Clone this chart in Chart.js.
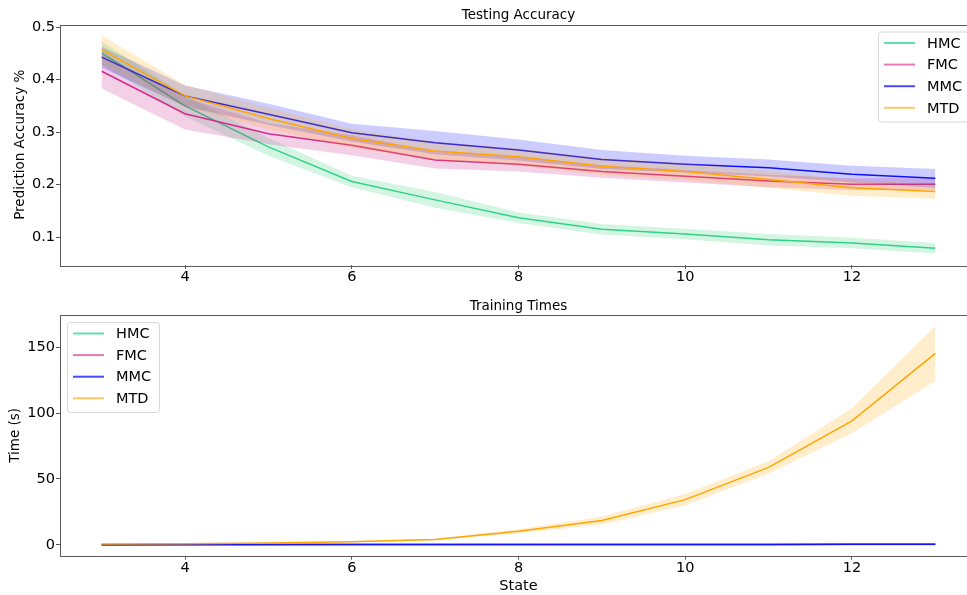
<!DOCTYPE html>
<html><head><meta charset="utf-8">
<script src="https://cdn.jsdelivr.net/npm/chart.js@4/dist/chart.umd.min.js"></script>
<style>
html,body{margin:0;padding:0;background:#fff;overflow:hidden;width:967px;height:595px;position:relative;}
#c1{position:absolute;left:0;top:0;}
#c2{position:absolute;left:0;top:290px;}
</style></head><body>
<canvas id="c1" width="990" height="290"></canvas>
<canvas id="c2" width="990" height="305"></canvas>
<script>
// ---------- data ----------
const states = [3, 4, 5, 6, 7, 8, 9, 10, 11, 12, 13];
const seriesNames = ['HMC', 'FMC', 'MMC', 'MTD'];

const accHMC = [0.451, 0.350, 0.272, 0.206, 0.171, 0.137, 0.115, 0.106, 0.095, 0.089, 0.079];
const accFMC = [0.416, 0.335, 0.297, 0.275, 0.247, 0.239, 0.225, 0.216, 0.207, 0.201, 0.201];
const accMMC = [0.443, 0.369, 0.334, 0.299, 0.280, 0.266, 0.248, 0.239, 0.232, 0.220, 0.212];
const accMTD = [0.457, 0.369, 0.326, 0.288, 0.264, 0.253, 0.235, 0.225, 0.210, 0.194, 0.187];

const accStdHMC = [0.022, 0.020, 0.017, 0.011, 0.015, 0.010, 0.010, 0.010, 0.011, 0.010, 0.010];
const accStdFMC = [0.033, 0.030, 0.020, 0.019, 0.016, 0.014, 0.012, 0.012, 0.012, 0.011, 0.011];
const accStdMMC = [0.020, 0.020, 0.020, 0.017, 0.022, 0.020, 0.018, 0.016, 0.016, 0.016, 0.018];
const accStdMTD = [0.027, 0.021, 0.020, 0.018, 0.017, 0.016, 0.016, 0.016, 0.016, 0.015, 0.014];

const timeHMC = [0.05, 0.08, 0.10, 0.12, 0.15, 0.18, 0.20, 0.22, 0.25, 0.28, 0.30];
const timeFMC = [0.06, 0.09, 0.12, 0.15, 0.18, 0.20, 0.23, 0.26, 0.29, 0.32, 0.35];
const timeMMC = [0.10, 0.12, 0.15, 0.18, 0.20, 0.22, 0.25, 0.28, 0.30, 0.32, 0.35];
const timeMTD = [0.5, 0.8, 1.3, 2.3, 4.0, 10.3, 18.4, 34.3, 58.8, 94.2, 145.4];

const timeStdHMC = [0.01, 0.01, 0.01, 0.01, 0.01, 0.02, 0.02, 0.02, 0.02, 0.02, 0.02];
const timeStdFMC = [0.01, 0.01, 0.01, 0.01, 0.01, 0.02, 0.02, 0.02, 0.02, 0.02, 0.02];
const timeStdMMC = [0.01, 0.01, 0.01, 0.01, 0.01, 0.02, 0.02, 0.02, 0.02, 0.02, 0.02];
const timeStdMTD = [0.1, 0.1, 0.2, 0.3, 0.5, 1.5, 3.0, 4.2, 4.7, 9.5, 21.0];

const accTicks = [0.1, 0.2, 0.3, 0.4, 0.5];
const timeTicks = [0, 50, 100, 150];
const stateTicks = [4, 6, 8, 10, 12];

// ---------- styles ----------
const styles = {
  HMC: { line: '#30d48c', band: 'rgba(46,204,113,0.2)', legend: '#5fe2a8' },
  FMC: { line: '#d8318f', band: 'rgba(199,21,133,0.2)', legend: '#e47ab8' },
  MMC: { line: '#1414f5', band: 'rgba(0,0,255,0.2)', legend: '#4a4aff' },
  MTD: { line: '#ffa500', band: 'rgba(255,165,0,0.2)', legend: '#ffc866' }
};
const FONT = "'DejaVu Sans', sans-serif";
Chart.defaults.font.family = FONT;
Chart.defaults.color = '#000';

function buildDatasets(meanMap, stdMap) {
  const out = [];
  // reverse order so that the first series is drawn first (Chart.js paints index 0 last)
  [...seriesNames].reverse().forEach(name => {
    const mean = meanMap[name], std = stdMap[name], st = styles[name];
    out.push({ label: name + '_up', data: states.map((x, i) => ({ x, y: mean[i] + std[i] })),
      borderWidth: 0, borderColor: 'rgba(0,0,0,0)', pointRadius: 0, fill: false, tension: 0 });
    out.push({ label: name + '_lo', data: states.map((x, i) => ({ x, y: mean[i] - std[i] })),
      borderWidth: 0, borderColor: 'rgba(0,0,0,0)', pointRadius: 0, fill: '-1', backgroundColor: st.band, tension: 0 });
    out.push({ label: name, data: states.map((x, i) => ({ x, y: mean[i] })),
      borderWidth: 1.5, borderColor: st.line, pointRadius: 0, fill: false, tension: 0 });
  });
  return out;
}

const framePlugin = {
  id: 'frame',
  afterDatasetsDraw(chart) {
    const { ctx, chartArea: a } = chart;
    ctx.save();
    ctx.strokeStyle = '#5a5a5a';
    ctx.lineWidth = 1;
    ctx.strokeRect(Math.round(a.left) + 0.5, Math.round(a.top) + 0.5,
      Math.round(a.right - a.left), Math.round(a.bottom - a.top));
    ctx.restore();
  }
};

const legendPlugin = {
  id: 'mplLegend',
  afterDraw(chart, args, opts) {
    const { ctx, chartArea: a } = chart;
    const w = 92, h = 90, off = 7;
    const left = opts.corner === 'tr' ? a.right - off - w : a.left + off;
    const top = a.top + off;
    ctx.save();
    ctx.fillStyle = 'rgba(255,255,255,0.8)';
    ctx.strokeStyle = '#d6d6d6';
    ctx.lineWidth = 1;
    ctx.beginPath();
    ctx.roundRect(left + 0.5, top + 0.5, w, h, 3);
    ctx.fill();
    ctx.stroke();
    ctx.font = '14.5px ' + FONT;
    ctx.textBaseline = 'middle';
    ctx.textAlign = 'left';
    seriesNames.forEach((name, i) => {
      const y = top + 11.5 + i * 21.6;
      ctx.strokeStyle = styles[name].legend;
      ctx.lineWidth = 2;
      ctx.beginPath();
      ctx.moveTo(left + 6, y);
      ctx.lineTo(left + 37, y);
      ctx.stroke();
      ctx.fillStyle = '#000';
      ctx.fillText(name, left + 49, y + 1);
    });
    ctx.restore();
  }
};

function makeChart(id, cfg) {
  return new Chart(document.getElementById(id), {
    type: 'line',
    data: { datasets: buildDatasets(cfg.mean, cfg.std) },
    plugins: [framePlugin, legendPlugin],
    options: {
      responsive: false,
      animation: false,
      layout: { padding: { left: 0, right: 13, top: 0, bottom: 0 } },
      plugins: {
        legend: { display: false },
        tooltip: { enabled: false },
        title: { display: true, text: cfg.title, fullSize: false, color: '#000',
          font: { size: 13.5, weight: 'normal', family: FONT }, padding: { top: cfg.titleTop, bottom: 0.8 } },
        mplLegend: { corner: cfg.corner },
        filler: { propagate: false }
      },
      scales: {
        x: {
          type: 'linear', min: 2.5, max: 13.5,
          afterFit: s => { s.height = cfg.xHeight; },
          afterBuildTicks: s => { s.ticks = stateTicks.map(v => ({ value: v })); },
          grid: { drawOnChartArea: false, drawTicks: true, tickLength: 4, tickColor: '#5a5a5a' },
          border: { display: false },
          ticks: { font: { size: 14.5 }, color: '#000', padding: 0, maxRotation: 0 },
          title: cfg.xTitle ? { display: true, text: cfg.xTitle, font: { size: 14.5 }, color: '#000', padding: { top: 3.3, bottom: 0 } } : { display: false }
        },
        y: {
          type: 'linear', min: cfg.yMin, max: cfg.yMax,
          afterFit: s => { s.width = 60; },
          afterBuildTicks: s => { s.ticks = cfg.yTicks.map(v => ({ value: v })); },
          grid: { drawOnChartArea: false, drawTicks: true, tickLength: 4, tickColor: '#5a5a5a' },
          border: { display: false },
          ticks: { font: { size: 14.5 }, color: '#000', padding: 1, callback: cfg.yFmt },
          title: { display: true, text: cfg.yTitle, font: { size: 13.5 }, color: '#000', padding: { top: cfg.yTitlePad, bottom: 0 } }
        }
      }
    }
  });
}

makeChart('c1', {
  title: 'Testing Accuracy', titleTop: 7.5, corner: 'tr',
  mean: { HMC: accHMC, FMC: accFMC, MMC: accMMC, MTD: accMTD },
  std: { HMC: accStdHMC, FMC: accStdFMC, MMC: accStdMMC, MTD: accStdMTD },
  xHeight: 25, xTitle: null,
  yMin: 0.047, yMax: 0.505, yTicks: accTicks, yFmt: v => v.toFixed(1),
  yTitle: 'Prediction Accuracy %', yTitlePad: 12
});

makeChart('c2', {
  title: 'Training Times', titleTop: 8, corner: 'tl',
  mean: { HMC: timeHMC, FMC: timeFMC, MMC: timeMMC, MTD: timeMTD },
  std: { HMC: timeStdHMC, FMC: timeStdFMC, MMC: timeStdMMC, MTD: timeStdMTD },
  xHeight: 39.3, xTitle: 'State',
  yMin: -8.3, yMax: 174.6, yTicks: timeTicks, yFmt: v => String(v),
  yTitle: 'Time (s)', yTitlePad: 7.4
});
</script>
</body></html>
